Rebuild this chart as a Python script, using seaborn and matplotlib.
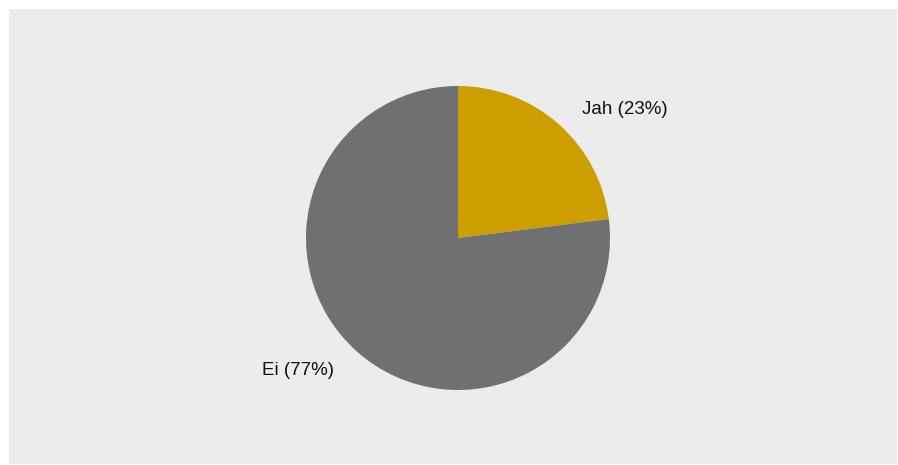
import matplotlib
matplotlib.use("Agg")
import matplotlib.pyplot as plt
import seaborn as sns

categories = ["Jah", "Ei"]
shares = [23, 77]
colors = ["#cc9e00", "#6f7072"]

sns.set_theme(style="white")
plt.rcParams["font.family"] = ["Liberation Sans", "DejaVu Sans"]

W, H = 898, 465
fig = plt.figure(figsize=(W / 100, H / 100), dpi=100)
fig.patch.set_facecolor("white")

# panel in pixel coordinates
px0, py0, px1, py1 = 9, 1, 897, 456
ax = fig.add_axes([px0 / W, py0 / H, (px1 - px0) / W, (py1 - py0) / H])
ax.set_facecolor("#ececec")
for s in ax.spines.values():
    s.set_visible(False)

cx, cy, r = 449, 226, 152
labels = [f"{c} ({v}%)" for c, v in zip(categories, shares)]
wedges, texts = ax.pie(
    shares,
    labels=labels,
    colors=colors,
    startangle=90,
    counterclock=False,
    center=(cx, cy),
    radius=r,
    labeldistance=1.23,
    frame=True,
    wedgeprops=dict(linewidth=0),
    textprops=dict(fontsize=13.5, color="#111111"),
)
# align labels relative to the pie centre and pull them slightly towards its horizontal axis
for t in texts:
    x, y = t.get_position()
    t.set_position((x, cy + (y - cy) * 0.93 - 2))
    t.set_horizontalalignment("left" if x > cx else "right")
    t.set_verticalalignment("center")

ax.set_xlim(0, px1 - px0)
ax.set_ylim(0, py1 - py0)
ax.set_aspect("equal", adjustable="box")
ax.set_xticks([])
ax.set_yticks([])

fig.savefig("out.png", dpi=100, facecolor=fig.get_facecolor())
